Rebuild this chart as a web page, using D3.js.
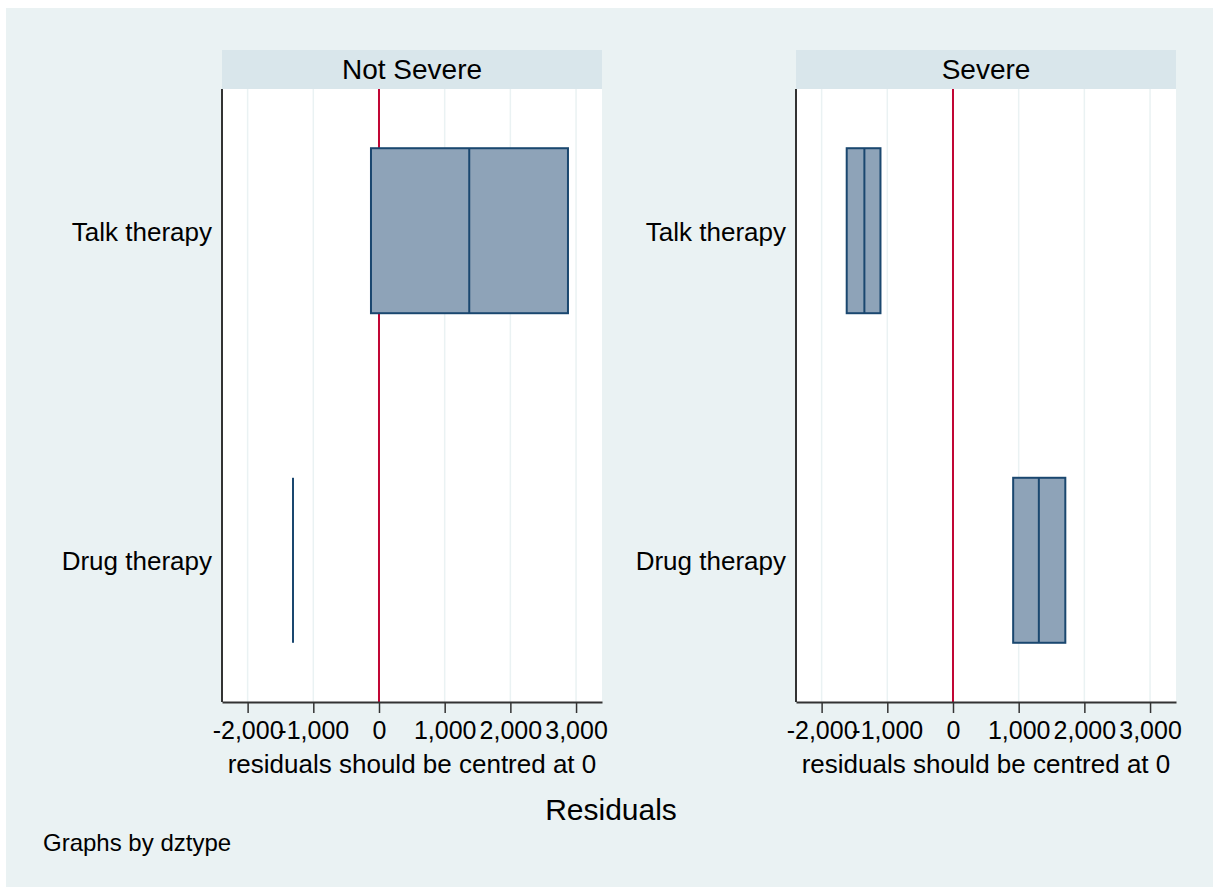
<!DOCTYPE html>
<html>
<head>
<meta charset="utf-8">
<script src="https://cdn.jsdelivr.net/npm/d3@7"></script>
<style>
  body { margin: 0; background: #fff; }
  text { font-family: "Liberation Sans", Arial, sans-serif; fill: #000; }
</style>
</head>
<body>
<div id="chart"></div>
<script>
// panels (by dztype)
var panels = ["Not Severe", "Severe"];
var categories = ["Talk therapy", "Drug therapy"];
var ticks = [-2000, -1000, 0, 1000, 2000, 3000];

// quartiles of residuals: [panel][category]
var q1 = [[-122, -1309], [-1618, 916]];
var median = [[1374, -1309], [-1349, 1307]];
var q3 = [[2877, -1309], [-1104, 1710]];

var width = 1213, height = 887;

var svg = d3.select("#chart").append("svg")
  .attr("width", width)
  .attr("height", height);

svg.append("rect")
  .attr("x", 6).attr("y", 8)
  .attr("width", width - 6).attr("height", height - 8)
  .style("fill", "#eaf2f3");

var panelLeft = [222, 796];
var pw = 380, plotTop = 89, plotBottom = 702;

var y = d3.scalePoint()
  .domain(categories)
  .range([plotTop, plotBottom])
  .padding(0.43);

var fmt = function(d) { return d3.format(",")(d).replace("\u2212", "-"); };

panels.forEach(function(name, p) {
  var x = d3.scaleLinear()
    .domain([-2390, 3395])
    .range([panelLeft[p], panelLeft[p] + pw]);

  var g = svg.append("g");

  // header strip
  g.append("rect")
    .attr("x", panelLeft[p]).attr("y", 50)
    .attr("width", pw).attr("height", plotTop - 50)
    .style("fill", "#d9e6eb");
  g.append("text")
    .attr("x", panelLeft[p] + pw / 2).attr("y", 79)
    .attr("text-anchor", "middle")
    .style("font-size", "28px")
    .text(name);

  // plot region
  g.append("rect")
    .attr("x", panelLeft[p]).attr("y", plotTop)
    .attr("width", pw).attr("height", plotBottom - plotTop)
    .style("fill", "#fff");

  // grid
  g.selectAll(".grid")
    .data(ticks)
  .enter().append("line")
    .attr("x1", function(d) { return x(d); })
    .attr("x2", function(d) { return x(d); })
    .attr("y1", plotTop).attr("y2", plotBottom)
    .style("stroke", "#eaf2f3")
    .style("stroke-width", 1.5);

  // reference line at 0
  g.append("line")
    .attr("x1", x(0)).attr("x2", x(0))
    .attr("y1", plotTop).attr("y2", plotBottom)
    .style("stroke", "#c10534")
    .style("stroke-width", 2);

  // boxes
  var bh = 165;
  categories.forEach(function(c, i) {
    var cy = y(c);
    g.append("rect")
      .attr("x", x(q1[p][i]))
      .attr("y", cy - bh / 2)
      .attr("width", Math.max(0, x(q3[p][i]) - x(q1[p][i])))
      .attr("height", bh)
      .style("fill", "#8ea3b8")
      .style("stroke", "#1a476f")
      .style("stroke-width", 2);
    g.append("line")
      .attr("x1", x(median[p][i])).attr("x2", x(median[p][i]))
      .attr("y1", cy - bh / 2).attr("y2", cy + bh / 2)
      .style("stroke", "#1a476f")
      .style("stroke-width", 2);

    g.append("text")
      .attr("x", panelLeft[p] - 10)
      .attr("y", cy + 10)
      .attr("text-anchor", "end")
      .style("font-size", "26px")
      .text(c);
  });

  // axes
  g.append("line")
    .attr("x1", panelLeft[p]).attr("x2", panelLeft[p])
    .attr("y1", plotTop).attr("y2", plotBottom)
    .style("stroke", "#333").style("stroke-width", 2);

  var ax = g.append("g")
    .attr("transform", "translate(0," + plotBottom + ")")
    .call(d3.axisBottom(x)
      .tickValues(ticks)
      .tickSize(11)
      .tickPadding(8)
      .tickSizeOuter(0)
      .tickFormat(fmt));
  ax.select(".domain").style("stroke", "#333").style("stroke-width", 2);
  ax.selectAll(".tick line").style("stroke", "#333").style("stroke-width", 1.5);
  ax.selectAll(".tick text")
    .style("font-size", "25px")
    .style("font-family", "'Liberation Sans', Arial, sans-serif")
    .style("fill", "#000");

  g.append("text")
    .attr("x", panelLeft[p] + pw / 2).attr("y", 773)
    .attr("text-anchor", "middle")
    .style("font-size", "26px")
    .text("residuals should be centred at 0");
});

svg.append("text")
  .attr("x", 611).attr("y", 820)
  .attr("text-anchor", "middle")
  .style("font-size", "30px")
  .text("Residuals");

svg.append("text")
  .attr("x", 43).attr("y", 851)
  .style("font-size", "24px")
  .text("Graphs by dztype");
</script>
</body>
</html>
